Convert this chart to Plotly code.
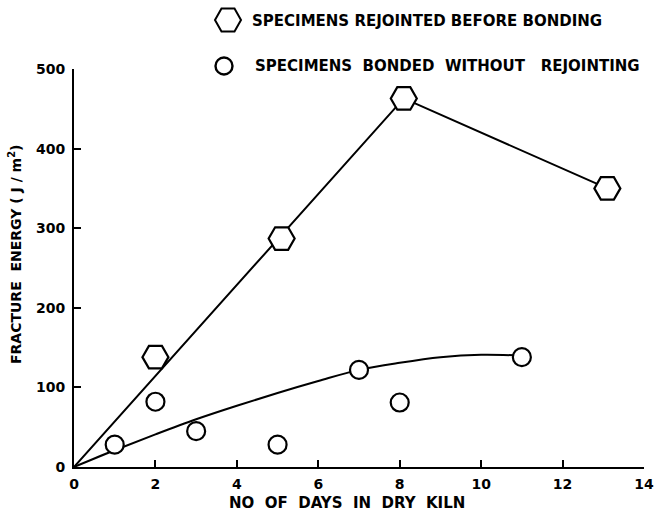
import plotly.graph_objects as go

# Data
rej_days = [2, 5.1, 8.1, 13.1]
rej_energy = [138, 287, 463, 350]
rej_line_days = [0, 8.1, 13.1]
rej_line_energy = [0, 463, 350]

bond_days = [1, 2, 3, 5, 7, 8, 11]
bond_energy = [28, 82, 45, 28, 122, 81, 138]
bond_curve_days = [0, 1, 2, 3, 4, 5, 6, 7, 8, 9, 10, 11]
bond_curve_energy = [0, 21, 41, 60, 77, 93, 108, 122, 131, 138, 141, 140]

x_ticks = [0, 2, 4, 6, 8, 10, 12, 14]
y_ticks = [0, 100, 200, 300, 400, 500]

NB = "\u00a0"
legend_labels = ["SPECIMENS REJOINTED BEFORE BONDING",
                 "SPECIMENS" + NB * 2 + "BONDED" + NB * 2 + "WITHOUT" + NB * 3 + "REJOINTING"]
x_title = (NB * 2).join(["NO", "OF", "DAYS", "IN", "DRY", "KILN"])
y_title = "FRACTURE" + NB * 2 + "ENERGY ( J / m<sup>2</sup>)"

FONT = "DejaVu Sans, sans-serif"

L = 74; W = 570; B = 467; H = 398

fig = go.Figure()
fig.add_trace(go.Scatter(x=rej_line_days, y=rej_line_energy, mode="lines",
                         line=dict(color="black", width=2), showlegend=False))
fig.add_trace(go.Scatter(x=bond_curve_days, y=bond_curve_energy, mode="lines",
                         line=dict(color="black", width=2, shape="spline"), showlegend=False))
fig.add_trace(go.Scatter(x=rej_days, y=rej_energy, mode="markers",
                         marker=dict(symbol="hexagon2", size=26, color="white",
                                     line=dict(color="black", width=2.2)),
                         cliponaxis=False, showlegend=False))
fig.add_trace(go.Scatter(x=bond_days, y=bond_energy, mode="markers",
                         marker=dict(symbol="circle", size=18, color="white",
                                     line=dict(color="black", width=2.2)),
                         cliponaxis=False, showlegend=False))

# Legend drawn manually (shapes in pixel size mode + annotations)
hexpath = "M-13,0 L-6.5,11.5 L6.5,11.5 L13,0 L6.5,-11.5 L-6.5,-11.5 Z"
def px(xp):
    return (xp - L) / W
def py(yp):
    return (B - yp) / H
fig.add_shape(type="path", xref="paper", yref="paper", xsizemode="pixel", ysizemode="pixel",
              xanchor=px(228), yanchor=py(20), path=hexpath,
              line=dict(color="black", width=2))
fig.add_shape(type="circle", xref="paper", yref="paper", xsizemode="pixel", ysizemode="pixel",
              xanchor=px(224), yanchor=py(66), x0=-8.5, x1=8.5, y0=-8.5, y1=8.5,
              line=dict(color="black", width=2.4))
for lab, xx, yy in zip(legend_labels, [250, 253], [21, 66]):
    fig.add_annotation(text=lab, xref="paper", yref="paper", x=px(xx), y=py(yy),
                       xanchor="left", yanchor="middle", showarrow=False,
                       font=dict(family=FONT, size=15, color="black", weight="bold"))

# Axis titles as annotations (positioned as in the reference)
fig.add_annotation(text=x_title, xref="paper", yref="paper", x=px(347), y=py(503),
                   xanchor="center", yanchor="middle", showarrow=False,
                   font=dict(family=FONT, size=15, color="black", weight="bold"))
fig.add_annotation(text=y_title, xref="paper", yref="paper", x=px(15), y=py(255),
                   xanchor="center", yanchor="middle", showarrow=False, textangle=-90,
                   font=dict(family=FONT, size=14, color="black", weight="bold"))

fig.update_layout(
    width=657, height=514,
    margin=dict(l=L, r=657 - L - W, t=B - H, b=514 - B, autoexpand=False),
    paper_bgcolor="white", plot_bgcolor="white",
    font=dict(family=FONT, size=13, color="black", weight="bold"),
    showlegend=False,
)
fig.update_xaxes(range=[0, 14], tickvals=x_ticks, ticktext=[str(v) for v in x_ticks],
                 automargin=False,
                 showgrid=False, zeroline=False, showline=True, linecolor="black", linewidth=2,
                 ticks="inside", ticklen=7, tickwidth=2, tickcolor="black",
                 ticklabelstandoff=3,
                 tickfont=dict(family=FONT, size=14, weight="bold"))
fig.update_yaxes(range=[0, 500], tickvals=y_ticks, ticktext=[str(v) for v in y_ticks],
                 automargin=False,
                 showgrid=False, zeroline=False, showline=True, linecolor="black", linewidth=2,
                 ticks="inside", ticklen=7, tickwidth=2, tickcolor="black",
                 ticklabelstandoff=4,
                 tickfont=dict(family=FONT, size=14, weight="bold"))

fig.write_html("out.html")
